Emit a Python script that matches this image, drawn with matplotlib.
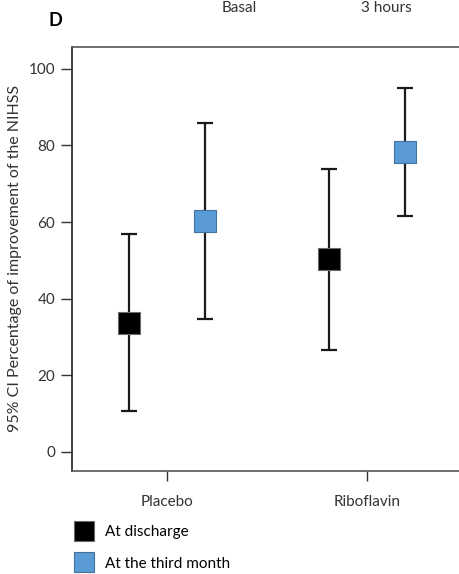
import matplotlib.pyplot as plt
from matplotlib.lines import Line2D

plt.rcParams['font.family'] = ['Lato', 'DejaVu Sans']

# data: mean and 95% CI bounds
groups = ['Placebo', 'Riboflavin']
series = ['At discharge', 'At the third month']
means = {'At discharge': [33.7, 50.3], 'At the third month': [60.3, 78.3]}
lower = {'At discharge': [10.6, 26.7], 'At the third month': [34.7, 61.5]}
upper = {'At discharge': [56.8, 73.8], 'At the third month': [85.9, 95.0]}
colors = {'At discharge': '#000000', 'At the third month': '#5B9BD5'}
edges = {'At discharge': '#6a6a6a', 'At the third month': '#41719C'}
offsets = {'At discharge': -0.19, 'At the third month': 0.19}
yticks = [0, 20, 40, 60, 80, 100]

fig = plt.figure(figsize=(4.6, 5.74), dpi=100)
ax = fig.add_axes([72 / 460, 1 - 471 / 574, 398 / 460, 424 / 574])

for s in series:
    xs = [i + offsets[s] for i in range(len(groups))]
    m = means[s]
    err = [[m[i] - lower[s][i] for i in range(len(m))],
           [upper[s][i] - m[i] for i in range(len(m))]]
    ax.errorbar(xs, m, yerr=err, fmt='none', ecolor='#1a1a1a',
                elinewidth=1.6, capsize=6, capthick=1.6, zorder=2)
    ax.plot(xs, m, 's', ms=16, mfc=colors[s], mec=edges[s], mew=0.8,
            zorder=3)

ax.set_xlim(-0.475, 1.515)
ax.set_ylim(-5.0, 105.7)
ax.set_yticks(yticks)
ax.set_xticks(range(len(groups)))
ax.set_xticklabels(groups)
ax.tick_params(axis='y', direction='out', length=8, width=1, labelsize=11,
               pad=4, colors='#333333')
ax.tick_params(axis='x', direction='out', length=7, width=1, labelsize=11,
               pad=10, colors='#333333')
ax.spines['right'].set_visible(False)
ax.spines['left'].set_color('#222222')
ax.spines['top'].set_color('#555555')
ax.spines['bottom'].set_color('#555555')
for sp in ax.spines.values():
    sp.set_linewidth(1.2)
ax.set_ylabel('95% CI Percentage of improvement of the NIHSS', fontsize=11.5,
              color='#333333', labelpad=5)

handles = [Line2D([], [], ls='none', marker='s', ms=15, mfc=colors[s],
                  mec=edges[s], mew=0.8) for s in series]
fig.legend(handles, series, loc='upper left', frameon=False, fontsize=11,
           bbox_to_anchor=(68 / 460, 1 - 519 / 574), handlelength=1.3,
           handletextpad=0.7, labelspacing=1.15, borderaxespad=0)

fig.text(55 / 460, 1 - 20 / 574, 'D', fontsize=13, fontweight='bold',
         ha='center', va='center')
fig.text(239 / 460, 1 - 1 / 574, 'Basal', fontsize=11, ha='center',
         va='top', color='#333333')
fig.text(386 / 460, 1 - 1 / 574, '3 hours', fontsize=11, ha='center',
         va='top', color='#333333')

fig.savefig('out.png', dpi=100)
